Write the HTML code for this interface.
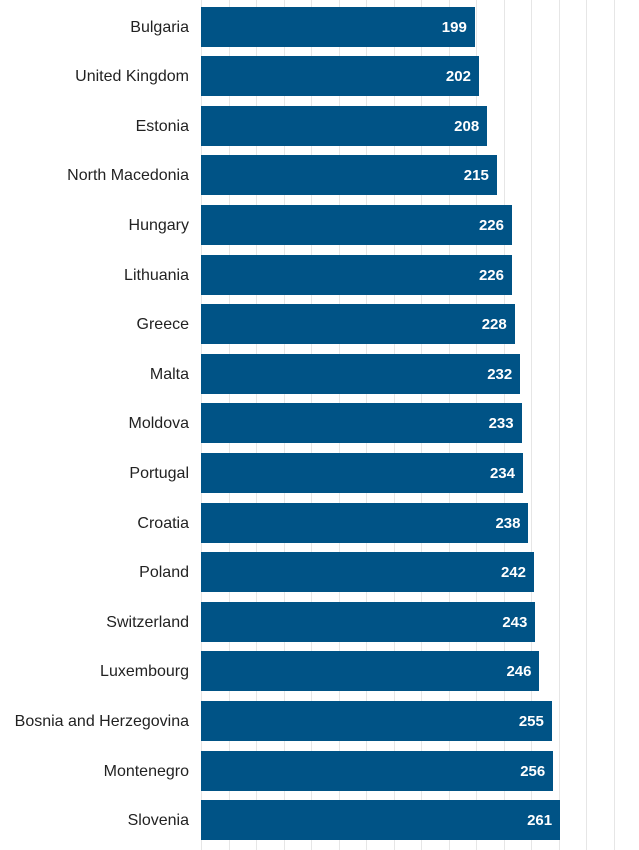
<!DOCTYPE html>
<html><head><style>
body{margin:0;width:639px;height:850px;background:#fff;font-family:"Liberation Sans",sans-serif;overflow:hidden;position:relative}
.g{position:absolute;top:0;height:850px;width:1px;background:#e6e6e6}
.b{position:absolute;left:201px;height:40px;background:#005386;color:#fff;font-weight:bold;font-size:15px;text-align:right;box-sizing:border-box;padding-right:8px;line-height:41px}
.l{position:absolute;right:450px;font-size:16px;color:#222;line-height:41px;white-space:nowrap}
</style></head><body>
<div id="c"></div>
<script>
var d=[["Bulgaria",199],["United Kingdom",202],["Estonia",208],["North Macedonia",215],["Hungary",226],["Lithuania",226],["Greece",228],["Malta",232],["Moldova",233],["Portugal",234],["Croatia",238],["Poland",242],["Switzerland",243],["Luxembourg",246],["Bosnia and Herzegovina",255],["Montenegro",256],["Slovenia",261]];
var h="";
for(var k=0;k<=15;k++)h+='<div class="g" style="left:'+(201+k*27.5)+'px"></div>';
d.forEach(function(r,i){var y=6.5+i*49.6;h+='<div class="l" style="top:'+y+'px">'+r[0]+'</div><div class="b" style="top:'+y+'px;width:'+(r[1]*1.376)+'px">'+r[1]+'</div>';});
document.getElementById("c").innerHTML=h;
</script>
</body></html>
